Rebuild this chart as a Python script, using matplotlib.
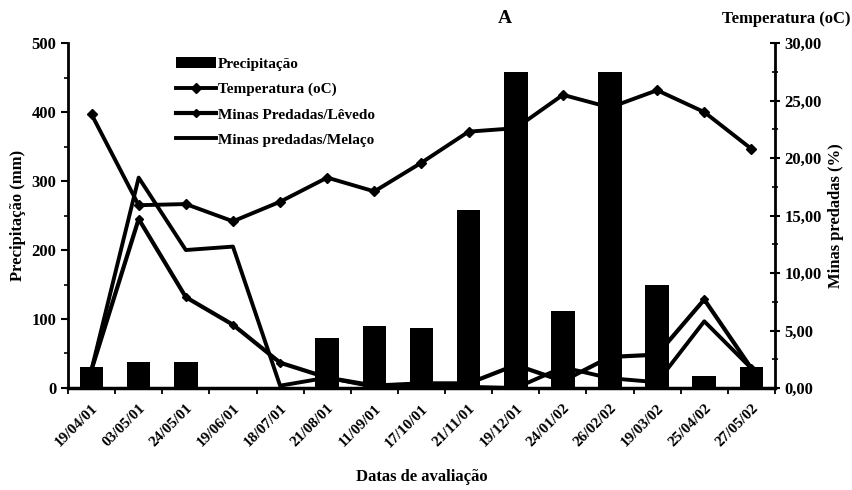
import matplotlib
matplotlib.use("Agg")
import matplotlib.pyplot as plt
from matplotlib.ticker import MultipleLocator, FuncFormatter, FixedLocator
import numpy as np

dates = ['19/04/01', '03/05/01', '24/05/01', '19/06/01', '18/07/01', '21/08/01',
         '11/09/01', '17/10/01', '21/11/01', '19/12/01', '24/01/02', '26/02/02',
         '19/03/02', '25/04/02', '27/05/02']
precipitacao = [30, 37, 37, 0, 0, 73, 90, 87, 258, 458, 112, 458, 150, 18, 30]
temperatura = [23.8, 15.9, 16.0, 14.5, 16.2, 18.3, 17.1, 19.6, 22.3, 22.6,
               25.5, 24.4, 25.9, 24.0, 20.8]
minas_levedo = [1.6, 14.7, 7.9, 5.5, 2.2, 0.9, 0.2, 0.4, 0.4, 2.0,
                0.6, 2.7, 2.9, 7.7, 1.7]
minas_melaco = [1.6, 18.3, 12.0, 12.3, 0.2, 0.9, 0.1, 0.3, 0.1, 0.0,
                1.8, 0.85, 0.5, 5.8, 1.7]

plt.rcParams['font.family'] = ['Liberation Serif', 'DejaVu Serif']
plt.rcParams['font.weight'] = 'bold'

fig = plt.figure(figsize=(8.52, 4.90), dpi=100)
ax = fig.add_axes([0.0798, 0.2082, 0.8298, 0.7038])
ax2 = ax.twinx()

x = np.arange(len(dates))
bars = ax.bar(x, precipitacao, width=0.5, color='black', label='Precipitação', zorder=2)
ax.set_ylim(0, 500)
ax.set_xlim(-0.5, len(dates) - 0.5)

ax2.set_ylim(0, 30)
l1, = ax2.plot(x, temperatura, color='black', lw=2.8, marker='D', ms=5.5,
               label='Temperatura (oC)', zorder=3)
l2, = ax2.plot(x, minas_levedo, color='black', lw=3.0, marker='D', ms=4,
               label='Minas Predadas/Lêvedo', zorder=3)
l3, = ax2.plot(x, minas_melaco, color='black', lw=2.8,
               label='Minas predadas/Melaço', zorder=3)

# Spines
for a in (ax, ax2):
    a.spines['top'].set_visible(False)
ax.spines['right'].set_visible(False)
ax.spines['left'].set_linewidth(2)
ax.spines['bottom'].set_linewidth(2.5)
ax2.spines['left'].set_visible(False)
ax2.spines['bottom'].set_visible(False)
ax2.spines['right'].set_linewidth(2)

# Ticks
ax.yaxis.set_major_locator(MultipleLocator(100))
ax.yaxis.set_minor_locator(MultipleLocator(50))
ax.tick_params(axis='y', which='major', length=5, width=1.5, labelsize=12, direction='out')
ax.tick_params(axis='y', which='minor', length=3, width=1.2, direction='out')

ax.set_xticks(x)
ax.set_xticklabels(dates, rotation=45, ha='right', rotation_mode='anchor', fontsize=11)
ax.xaxis.set_minor_locator(FixedLocator(np.arange(-0.5, len(dates), 1.0)))
ax.tick_params(axis='x', which='major', length=0, pad=10)
ax.tick_params(axis='x', which='minor', length=4, width=1.3, direction='out')

ax2.yaxis.set_major_locator(MultipleLocator(5))
ax2.yaxis.set_minor_locator(MultipleLocator(2.5))
ax2.yaxis.set_major_formatter(FuncFormatter(lambda v, p: f"{v:.2f}".replace('.', ',')))
ax2.tick_params(axis='y', which='major', length=7, width=1.5, labelsize=12, direction='inout')
ax2.tick_params(axis='y', which='minor', length=5, width=1.2, direction='inout')

for lab in ax.get_yticklabels() + ax2.get_yticklabels() + ax.get_xticklabels():
    lab.set_fontweight('bold')

ax.set_ylabel('Precipitação (mm)', fontsize=12, fontweight='bold', labelpad=4)
ax2.set_ylabel('Minas predadas (%)', fontsize=12, fontweight='bold', labelpad=4)
ax.set_xlabel('Datas de avaliação', fontsize=12, fontweight='bold', labelpad=14)

fig.text(0.593, 0.962, 'A', fontsize=14, fontweight='bold', ha='center', va='center')
fig.text(0.998, 0.962, 'Temperatura (oC)', fontsize=12, fontweight='bold', ha='right', va='center')

leg = ax.legend([bars, l1, l2, l3],
                ['Precipitação', 'Temperatura (oC)', 'Minas Predadas/Lêvedo', 'Minas predadas/Melaço'],
                loc='upper left', bbox_to_anchor=(0.14, 0.985), frameon=False,
                fontsize=11, handlelength=2.6, handletextpad=0.15, labelspacing=0.75,
                borderaxespad=0.2)
for t in leg.get_texts():
    t.set_fontweight('bold')
ax.set_zorder(ax2.get_zorder() + 1)
ax.patch.set_visible(False)

fig.savefig('out.png', dpi=100)
